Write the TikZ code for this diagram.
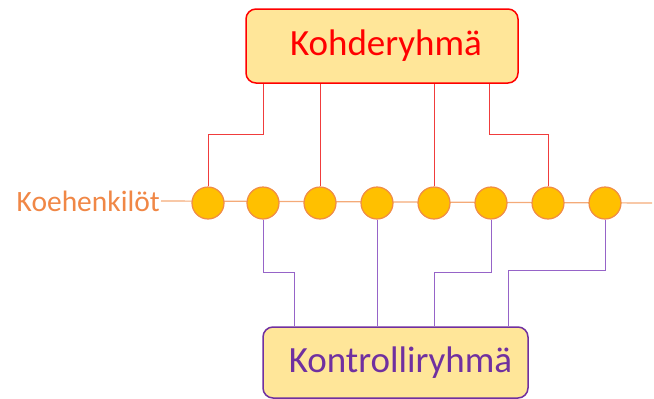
\documentclass[tikz,border=0pt]{standalone}
\usepackage{fontspec}
\setmainfont{Carlito}
\definecolor{boxfill}{RGB}{255,230,153}
\definecolor{dotfill}{RGB}{255,192,0}
\definecolor{dotedge}{RGB}{240,140,70}
\definecolor{axis}{RGB}{244,170,120}
\definecolor{lbl}{RGB}{240,135,70}
\definecolor{redline}{RGB}{240,60,60}
\definecolor{purp}{RGB}{112,48,160}
\definecolor{purpline}{RGB}{150,100,200}
\tikzset{
  dot/.style={circle,draw=dotedge,fill=dotfill,line width=1.2pt,minimum size=32pt,inner sep=0pt},
  groupbox/.style={rounded corners=10pt,fill=boxfill,line width=1.5pt,inner sep=0pt,font=\fontsize{37}{40}\selectfont},
  rline/.style={draw=redline,line width=1pt},
  pline/.style={draw=purpline,line width=1pt}
}
\begin{document}
\begin{tikzpicture}[x=1pt,y=-1pt]
\useasboundingbox (0,0) rectangle (654,399);
\node[text=lbl,font=\fontsize{29.5}{32}\selectfont,anchor=east,inner sep=1pt] (lab) at (161,201) {Koehenkilöt};
\coordinate (rend) at (652,203);
\draw[axis,line width=1.2pt] (lab.east) -- (rend);
\foreach \i/\x in {1/208,2/263,3/320,4/377,5/434,6/491,7/548,8/605}
  \node[dot] (c\i) at (\x,203) {};
\node[groupbox,draw=red,text=red,minimum width=272pt,minimum height=74pt] (top) at (382,46) {\hspace*{8pt}Kohderyhmä};
\node[groupbox,draw=purp,text=purp,minimum width=265pt,minimum height=71pt] (bot) at (395.5,362.5) {\hspace*{10pt}Kontrolliryhmä};
% red connectors
\draw[rline] (top.south -| c2) |- (208,134) -- (c1.north);
\draw[rline] (top.south -| c3) -- (c3.north);
\draw[rline] (top.south -| c5) -- (c5.north);
\draw[rline] (top.south -| 489,0) |- (548,134) -- (c7.north);
% purple connectors
\draw[pline] (c2.south) |- (294,272) -- (bot.north -| 294,0);
\draw[pline] (c4.south) -- (bot.north -| c4);
\draw[pline] (c6.south) |- (434,272) -- (bot.north -| c5);
\draw[pline] (c8.south) |- (508,270) -- (bot.north -| 508,0);
\end{tikzpicture}
\end{document}
